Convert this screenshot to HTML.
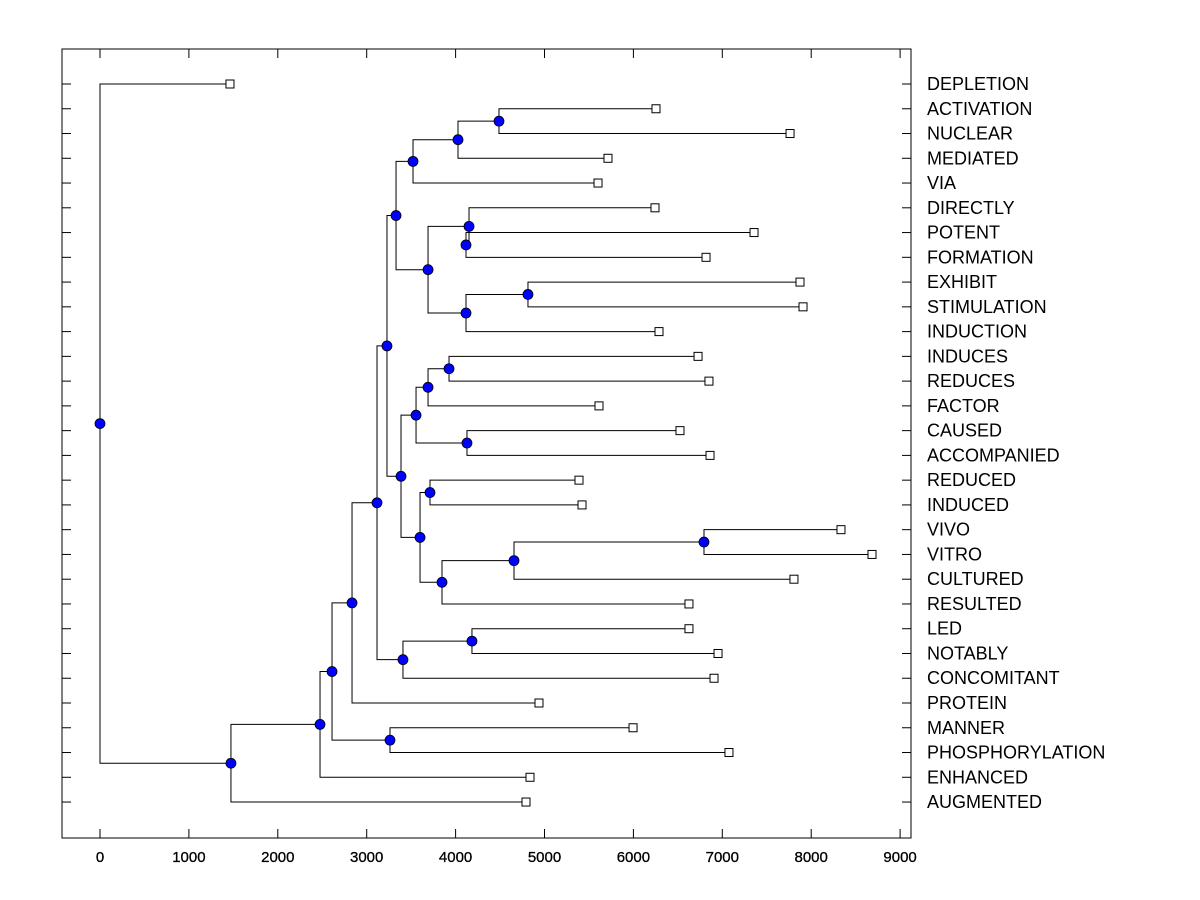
<!DOCTYPE html>
<html><head><meta charset="utf-8"><style>
html,body{margin:0;padding:0;background:#fff;}
svg{display:block;font-family:"Liberation Sans",Arial,sans-serif;}
</style></head><body>
<svg id="chart" width="1200" height="900"></svg>
<script>
const leafNames=["DEPLETION","ACTIVATION","NUCLEAR","MEDIATED","VIA","DIRECTLY","POTENT","FORMATION","EXHIBIT","STIMULATION","INDUCTION","INDUCES","REDUCES","FACTOR","CAUSED","ACCOMPANIED","REDUCED","INDUCED","VIVO","VITRO","CULTURED","RESULTED","LED","NOTABLY","CONCOMITANT","PROTEIN","MANNER","PHOSPHORYLATION","ENHANCED","AUGMENTED"];
const leafValues=[1462,6254,7762,5714,5602,6243,7357,6817,7874,7908,6288,6727,6850,5613,6524,6862,5388,5422,8335,8684,7806,6625,6625,6952,6907,4938,5996,7075,4837,4792];
const mergeLeft=[1,30,31,6,5,8,35,34,32,11,39,14,40,16,18,44,45,43,42,38,22,50,49,52,26,53,55,56,0];
const mergeRight=[2,3,4,7,33,9,10,36,37,12,13,15,41,17,19,20,21,46,47,48,23,24,51,25,27,54,28,29,57];
const mergeHeights=[4488,4027,3521,4117,4151,4814,4117,3690,3330,3926,3690,4128,3555,3712,6794,4657,3847,3600,3386,3228,4184,3408,3116,2835,3262,2610,2475,1473,0];
const xTicks=[0,1000,2000,3000,4000,5000,6000,7000,8000,9000];

const NS="http://www.w3.org/2000/svg";
const svg=document.getElementById('chart');
const L=62,R=911,T=49,B=838;
const xs=v=>100+v*0.0889;
const ys=i=>84+i*24.76;
function mk(tag,attrs,parent){const e=document.createElementNS(NS,tag);for(const k in attrs)e.setAttribute(k,attrs[k]);(parent||svg).appendChild(e);return e;}

const frame=mk('rect',{x:L,y:T,width:R-L,height:B-T,fill:'none',stroke:'#000','stroke-width':1});



xTicks.forEach(t=>{
  const x=xs(t);
  const tb=mk('line',{x1:x,y1:B,x2:x,y2:B-9,stroke:'#000'});
  
  
  const tt=mk('line',{x1:x,y1:T,x2:x,y2:T+9,stroke:'#000'});
  
  
  const lb=mk('text',{x:x,y:862,'text-anchor':'middle','font-size':15,fill:'#000',stroke:'#000','stroke-width':0.3});
  lb.textContent=t;
  
  
});

const nodeX=[],nodeY=[];
leafNames.forEach((n,i)=>{nodeX[i]=leafValues[i];nodeY[i]=ys(i);
  const tl=mk('line',{x1:L,y1:ys(i),x2:L+9,y2:ys(i),stroke:'#000'});
  
  
  const tr=mk('line',{x1:R,y1:ys(i),x2:R-9,y2:ys(i),stroke:'#000'});
  
  
  const lb=mk('text',{x:927,y:ys(i)+6,'font-size':18,fill:'#000'});
  lb.textContent=n;
  
  
});
mergeHeights.forEach((h,k)=>{const id=leafNames.length+k;nodeX[id]=h;nodeY[id]=(nodeY[mergeLeft[k]]+nodeY[mergeRight[k]])/2;});

const lines=mk('g',{stroke:'#000','stroke-width':1,fill:'none'});


mergeHeights.forEach((h,k)=>{
  const a=mergeLeft[k],b=mergeRight[k],x=xs(h);
  const p=mk('path',{d:`M${xs(nodeX[a])},${nodeY[a]}H${x}V${nodeY[b]}H${xs(nodeX[b])}`},lines);
  
  
});
leafNames.forEach((n,i)=>{
  const r=mk('rect',{x:xs(leafValues[i])-4,y:ys(i)-4,width:8,height:8,fill:'#fff',stroke:'#000'});
  
  
});
mergeHeights.forEach((h,k)=>{
  const id=leafNames.length+k;
  const c=mk('circle',{cx:xs(h),cy:nodeY[id],r:5,fill:'#0000ff',stroke:'#000','stroke-width':0.8});
  
  
});
</script>
</body></html>
